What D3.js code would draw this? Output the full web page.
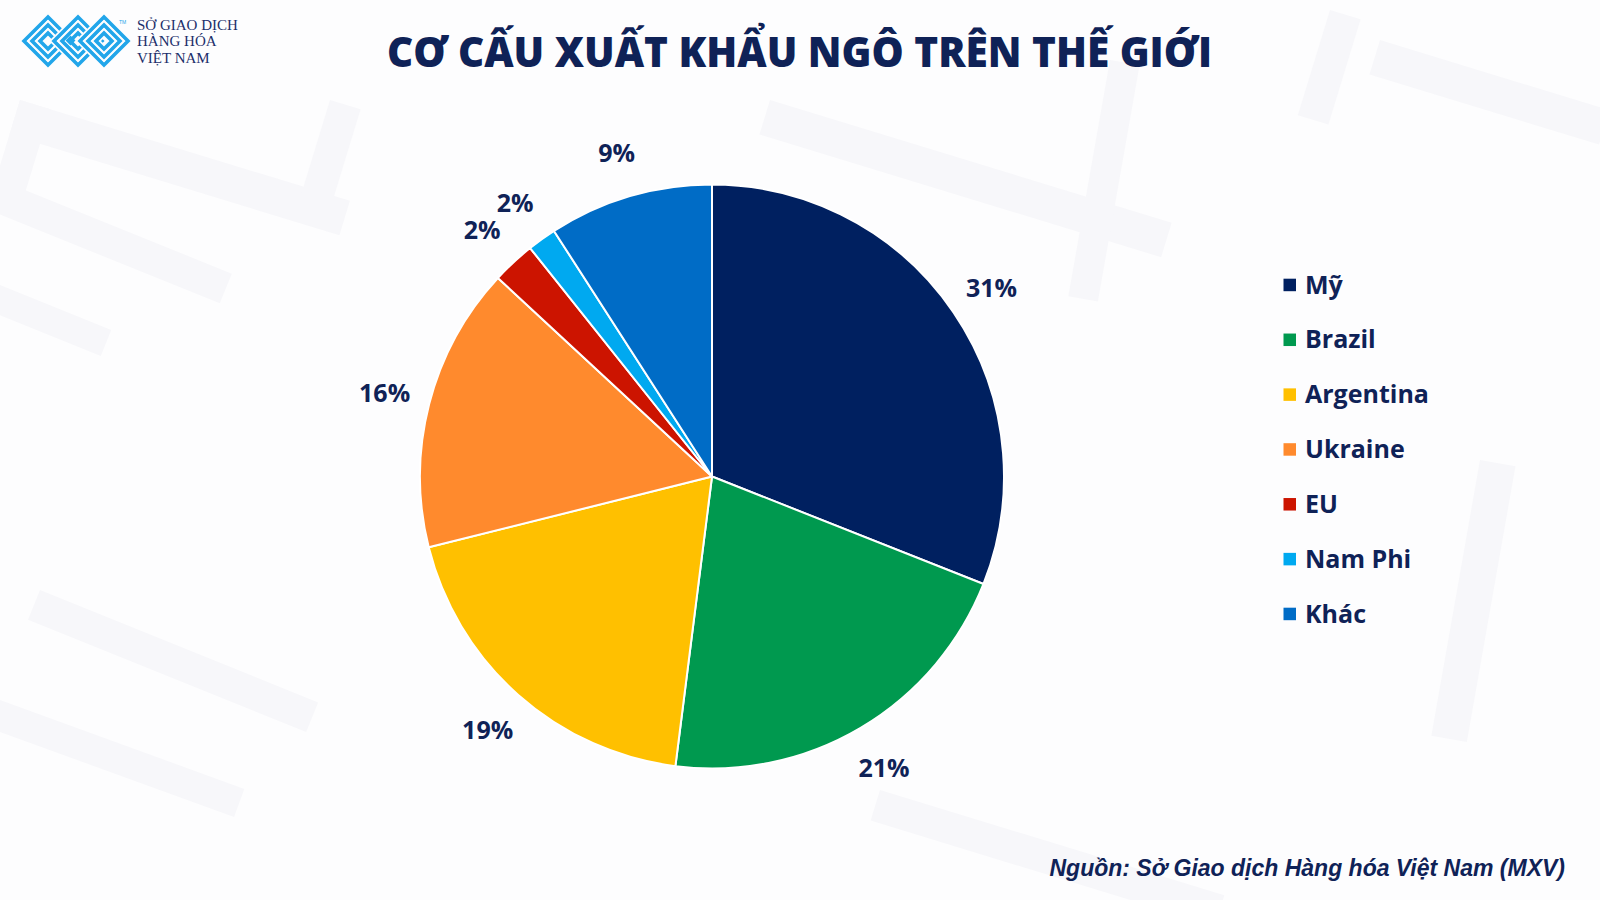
<!DOCTYPE html>
<html><head><meta charset="utf-8">
<script src="https://cdn.jsdelivr.net/npm/d3@7"></script>
<style>body{margin:0;background:#fff}svg{display:block}</style>
</head><body>
<svg id="c" width="1600" height="900"></svg>
<script>
// ---- data ----
const categories = ["Mỹ", "Brazil", "Argentina", "Ukraine", "EU", "Nam Phi", "Khác"];
const shares = [31.0, 21.0, 19.1, 15.8, 2.4, 1.6, 9.1];
const colors = ["#002060", "#00994f", "#ffc000", "#ff8a2d", "#cc1400", "#00a9f0", "#006cc6"];
const title = "CƠ CẤU XUẤT KHẨU NGÔ TRÊN THẾ GIỚI";
const source = "Nguồn: Sở Giao dịch Hàng hóa Việt Nam (MXV)";
const logoLines = ["SỞ GIAO DỊCH", "HÀNG HÓA", "VIỆT NAM"];

const navy = "#0f2257";
const svg = d3.select("#c");
svg.append("rect").attr("width", 1600).attr("height", 900).attr("fill", "#fdfdfe");

// ---- faint background watermark ----
const bg = svg.append("g").attr("fill", "#f7f7fa");
const wm = [
  [20, 100, 345, 36, 17], [20, 100, 32, 100, 17], [330, 100, 32, 100, 17],
  [0, 180, 250, 32, 22], [0, 285, 120, 28, 22],
  [770, 100, 420, 36, 17], [1380, 40, 240, 36, 17], [1330, 10, 32, 110, 17],
  [1110, 60, 30, 240, 10], [1480, 460, 36, 280, 10], [40, 590, 300, 32, 22],
  [880, 790, 360, 32, 17], [0, 700, 260, 30, 20]
];
wm.forEach(([x, y, w, h, a]) => {
  bg.append("rect").attr("x", x).attr("y", y).attr("width", w).attr("height", h)
    .attr("transform", `rotate(${a},${x},${y})`);
});

// ---- logo ----
const logo = svg.append("g");
const diamonds = [[48, 41], [78, 41], [104, 41]];
const sizes = [24, 16, 8];
diamonds.forEach(([cx, cy]) => {
  sizes.forEach(s => {
    const p = `M${cx - s},${cy} L${cx},${cy - s} L${cx + s},${cy} L${cx},${cy + s} Z`;
    logo.append("path").attr("d", p).attr("fill", "none").attr("stroke", "#fdfdfe").attr("stroke-width", 7);
    logo.append("path").attr("d", p).attr("fill", "none").attr("stroke", "#22a6ea").attr("stroke-width", 3.6);
  });
});
logo.append("rect").attr("x", 67).attr("y", 37).attr("width", 7).attr("height", 7)
  .attr("transform", "rotate(45,70.5,40.5)").attr("fill", "#22a6ea");
logo.append("text").attr("x", 119).attr("y", 24).text("TM")
  .attr("font-family", "Liberation Sans").attr("font-size", 5).attr("fill", "#22a6ea");
logo.selectAll("text.l").data(logoLines).join("text").attr("class", "l")
  .attr("x", 137).attr("y", (d, i) => 29.5 + i * 16.5)
  .attr("font-family", "Liberation Serif").attr("font-size", 15)
  .attr("fill", "#1c2f6b").text(d => d);

// ---- title ----
svg.append("text").attr("x", 387).attr("y", 67)
  .attr("textLength", 825).attr("lengthAdjust", "spacingAndGlyphs")
  .attr("font-family", "Open Sans").attr("font-weight", 800).attr("font-size", 43)
  .attr("fill", navy).text(title);

// ---- pie ----
const cx = 712, cy = 476.5, R = 292;
const pie = d3.pie().sort(null).value(d => d);
const arcs = pie(shares);
const arc = d3.arc().innerRadius(0).outerRadius(R);
const labelArc = d3.arc().innerRadius(338).outerRadius(338);
const fmt = d3.format(".0f");
const g = svg.append("g").attr("transform", `translate(${cx},${cy})`);
g.selectAll("path").data(arcs).join("path")
  .attr("d", arc).attr("fill", (d, i) => colors[i])
  .attr("stroke", "#fff").attr("stroke-width", 2).attr("stroke-linejoin", "round");
g.selectAll("text").data(arcs).join("text")
  .attr("transform", d => `translate(${labelArc.centroid(d)})`)
  .attr("text-anchor", "middle").attr("dominant-baseline", "central")
  .attr("font-family", "Open Sans").attr("font-weight", 700).attr("font-size", 25)
  .attr("fill", navy).text(d => fmt(d.data) + "%");

// ---- legend ----
const leg = svg.append("g");
const ly = d3.scalePoint().domain(categories).range([285, 614]);
leg.selectAll("rect").data(categories).join("rect")
  .attr("x", 1283.5).attr("y", d => ly(d) - 6.3).attr("width", 12.5).attr("height", 12.5)
  .attr("fill", (d, i) => colors[i]);
leg.selectAll("text").data(categories).join("text")
  .attr("x", 1305).attr("y", d => ly(d) + 8.5)
  .attr("font-family", "Open Sans").attr("font-weight", 700).attr("font-size", 25)
  .attr("fill", navy).text(d => d);

// ---- source ----
svg.append("text").attr("x", 1565).attr("y", 876).attr("text-anchor", "end")
  .attr("font-family", "Liberation Sans").attr("font-weight", 700).attr("font-style", "italic")
  .attr("font-size", 23).attr("fill", navy).text(source);
</script>
</body></html>
